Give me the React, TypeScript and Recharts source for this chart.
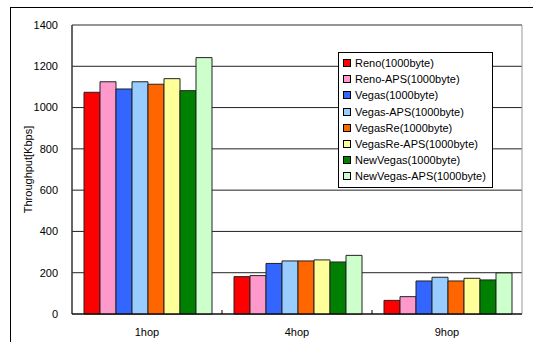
import React from "react";
import {
  Bar,
  BarChart,
  CartesianGrid,
  ReferenceArea,
  XAxis,
  YAxis,
} from "recharts";

const hops = ["1hop", "4hop", "9hop"];

const reno = [1074, 181, 66];
const renoAps = [1125, 186, 84];
const vegas = [1090, 245, 160];
const vegasAps = [1125, 257, 178];
const vegasRe = [1113, 257, 160];
const vegasReAps = [1140, 262, 173];
const newVegas = [1082, 252, 165];
const newVegasAps = [1242, 284, 199];

const yTicks = [0, 200, 400, 600, 800, 1000, 1200, 1400];

const series = [
  { key: "reno", name: "Reno(1000byte)", values: reno, color: "#ff0000" },
  { key: "renoAps", name: "Reno-APS(1000byte)", values: renoAps, color: "#ff99cc" },
  { key: "vegas", name: "Vegas(1000byte)", values: vegas, color: "#3366ff" },
  { key: "vegasAps", name: "Vegas-APS(1000byte)", values: vegasAps, color: "#99ccff" },
  { key: "vegasRe", name: "VegasRe(1000byte)", values: vegasRe, color: "#ff6600" },
  { key: "vegasReAps", name: "VegasRe-APS(1000byte)", values: vegasReAps, color: "#ffff99" },
  { key: "newVegas", name: "NewVegas(1000byte)", values: newVegas, color: "#008000" },
  { key: "newVegasAps", name: "NewVegas-APS(1000byte)", values: newVegasAps, color: "#ccffcc" },
];

const data = hops.map((hop, i) => {
  const row: Record<string, string | number> = { hop };
  series.forEach((s) => {
    row[s.key] = s.values[i];
  });
  return row;
});

const WIDTH = 533;
const HEIGHT = 342;
const MARGIN = { top: 25, right: 11, bottom: 0, left: 22 };
const Y_AXIS_WIDTH = 50;
const X_AXIS_HEIGHT = 28;
const plotWidth = WIDTH - MARGIN.left - MARGIN.right - Y_AXIS_WIDTH;
const bandWidth = plotWidth / hops.length;

const FONT = "'Liberation Sans', Arial, sans-serif";

function HopTick(props: any) {
  const { x, y, payload, index } = props;
  const bx = x - bandWidth / 2;
  return (
    <g>
      {index > 0 && <line x1={bx} x2={bx} y1={y - 4} y2={y} stroke="#000" />}
      <text x={x} y={y + 22} textAnchor="middle" fontSize={11} fill="#000" fontFamily={FONT}>
        {payload.value}
      </text>
    </g>
  );
}

function LegendBox() {
  return (
    <div
      style={{
        position: "absolute",
        left: 338,
        top: 52,
        width: 155,
        border: "1px solid #000",
        background: "#fff",
        padding: "2px 4px 2px 4px",
        fontFamily: FONT,
        fontSize: 11,
        color: "#000",
        boxSizing: "border-box",
      }}
    >
      {series.map((s) => (
        <div key={s.key} style={{ display: "flex", alignItems: "center", height: 16.2 }}>
          <span
            style={{
              display: "inline-block",
              width: 6,
              height: 6,
              background: s.color,
              border: "1px solid #000",
              marginRight: 4,
            }}
          />
          <span style={{ whiteSpace: "nowrap" }}>{s.name}</span>
        </div>
      ))}
    </div>
  );
}

export default function App() {
  return (
    <div style={{ position: "absolute", left: 0, top: 0, width: WIDTH, height: HEIGHT, background: "#fff", overflow: "hidden" }}>
      <div
        style={{
          position: "absolute",
          left: 10,
          top: 7,
          width: WIDTH,
          height: HEIGHT,
          borderLeft: "1px solid #000",
          borderTop: "1px solid #000",
        }}
      />
      <BarChart
        width={WIDTH}
        height={HEIGHT}
        data={data}
        margin={MARGIN}
        barCategoryGap={12}
        barGap={0}
        style={{ position: "absolute", left: 0, top: 0 }}
      >
        <ReferenceArea y1={0} y2={1400} fill="none" stroke="#999" strokeWidth={1} ifOverflow="visible" />
        <CartesianGrid vertical={false} stroke="#222" />
        <XAxis
          dataKey="hop"
          height={X_AXIS_HEIGHT}
          tickLine={false}
          tickSize={0}
          tickMargin={0}
          axisLine={{ stroke: "#000" }}
          tick={<HopTick />}
          interval={0}
        />
        <YAxis
          width={Y_AXIS_WIDTH}
          domain={[0, 1400]}
          ticks={yTicks}
          tickLine={false}
          tickMargin={8}
          axisLine={{ stroke: "#000" }}
          tick={{ fontSize: 11, fill: "#000", fontFamily: FONT }}
          label={{
            value: "Throughput[Kbps]",
            angle: -90,
            position: "insideLeft",
            offset: 6,
            style: { fontSize: 11, fill: "#000", fontFamily: FONT, textAnchor: "middle" },
          }}
        />
        {series.map((s) => (
          <Bar
            key={s.key}
            dataKey={s.key}
            name={s.name}
            fill={s.color}
            stroke="#222"
            strokeWidth={1}
            isAnimationActive={false}
          />
        ))}
      </BarChart>
      <LegendBox />
    </div>
  );
}
